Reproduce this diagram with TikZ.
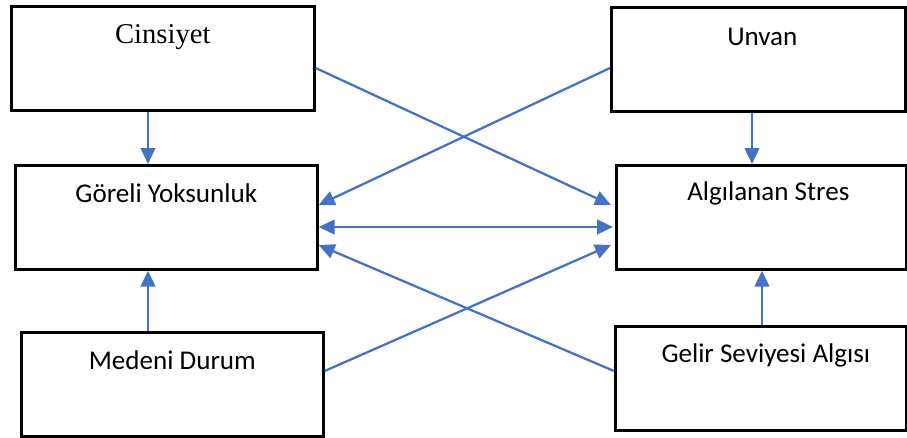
\documentclass[tikz,border=0pt]{standalone}
\usepackage{fontspec}
\setmainfont{Carlito}
\newfontfamily\serifcin{Liberation Serif}
\usetikzlibrary{arrows.meta,calc}
\definecolor{arrowblue}{HTML}{4472C4}
\tikzset{
  box/.style={draw=black, line width=2pt, rectangle, inner sep=0pt, anchor=north west},
  lbl/.style={font=\fontsize{20.3}{24}\selectfont, inner sep=0pt},
  link/.style={draw=arrowblue, line width=1.7pt, -{Triangle[length=12pt,width=11pt]}},
  both/.style={draw=arrowblue, line width=1.7pt, {Triangle[length=12pt,width=11pt]}-{Triangle[length=12pt,width=11pt]}}
}
\begin{document}
\begin{tikzpicture}[x=0.75pt,y=-0.75pt]
\useasboundingbox (0,0) rectangle (907,437);
% boxes
\node[box, minimum width=303*0.75pt, minimum height=104*0.75pt] (cin) at (10,5) {};
\node[box, minimum width=294*0.75pt, minimum height=104*0.75pt] (unv) at (610,6) {};
\node[box, minimum width=302*0.75pt, minimum height=104*0.75pt] (gor) at (14,164) {};
\node[box, minimum width=290*0.75pt, minimum height=104*0.75pt] (alg) at (615,164) {};
\node[box, minimum width=302*0.75pt, minimum height=104*0.75pt] (med) at (20,331) {};
\node[box, minimum width=291*0.75pt, minimum height=104*0.75pt] (gel) at (614,325) {};
% labels
\node[lbl, font=\serifcin\fontsize{21.5}{24}\selectfont] (tcin) at ($(cin.north)+(0,32)$) {Cinsiyet};
\node[lbl] (tunv) at ($(unv.north)+(4,31)$) {Unvan};
\node[lbl] (tgor) at ($(gor.north)+(0,29)$) {Göreli Yoksunluk};
\node[lbl] (talg) at ($(alg.north)+(7,29)$) {Algılanan Stres};
\node[lbl] (tmed) at ($(med.north)+(0,29)$) {Medeni Durum};
\node[lbl] (tgel) at ($(gel.north)+(5,30)$) {Gelir Seviyesi Algısı};
% vertical arrows
\draw[link] (148,0 |- cin.south) -- (148,0 |- gor.north);
\draw[link] (752,0 |- unv.south) -- (752,0 |- alg.north);
\draw[link] (148,0 |- med.north) -- (148,0 |- gor.south);
\draw[link] (762,0 |- gel.north) -- (762,0 |- alg.south);
% cross arrows
\draw[link] (cin.east |- 0,68) -- ($(alg.west |- 0,205)+(-4,0)$);
\draw[link] (unv.west |- 0,68) -- ($(gor.east |- 0,205)$);
\draw[both] (gor.east |- 0,227) -- ($(alg.west |- 0,227)+(-2,0)$);
\draw[link] (med.east |- 0,371) -- ($(alg.west |- 0,245)+(-4,0)$);
\draw[link] (gel.west |- 0,371) -- (gor.east |- 0,245);
\end{tikzpicture}
\end{document}
